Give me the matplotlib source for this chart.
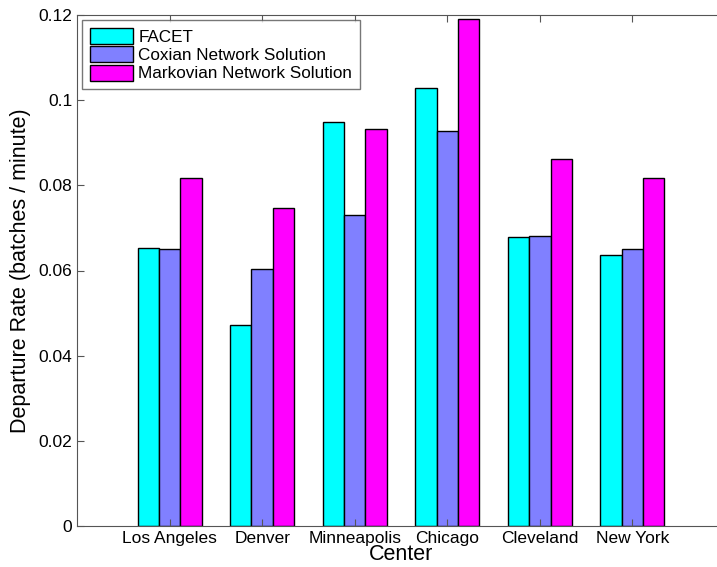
import numpy as np
import matplotlib.pyplot as plt

plt.rcParams["font.family"] = ["Liberation Sans", "DejaVu Sans"]

centers = ["Los Angeles", "Denver", "Minneapolis", "Chicago", "Cleveland", "New York"]
series_names = ["FACET", "Coxian Network Solution", "Markovian Network Solution"]
facet = [0.0653, 0.0472, 0.0949, 0.1029, 0.0679, 0.0636]
coxian = [0.0651, 0.0604, 0.0730, 0.0928, 0.0681, 0.0651]
markovian = [0.0817, 0.0747, 0.0932, 0.1191, 0.0862, 0.0817]
colors = ["#00FFFF", "#8080FF", "#FF00FF"]

fig = plt.figure(figsize=(7.17, 5.67), dpi=100)
ax = fig.add_axes([77 / 717, 1 - 526 / 567, (725 - 77) / 717, (526 - 15) / 567])

x = np.arange(1, len(centers) + 1)
width = 0.23
for i, (vals, name, col) in enumerate(zip([facet, coxian, markovian], series_names, colors)):
    ax.bar(x + (i - 1) * width, vals, width, color=col, edgecolor="black",
           linewidth=1.0, label=name)

ax.set_xlim(0, 7)
ax.set_ylim(0, 0.12)
ax.set_xticks(x)
ax.set_xticklabels(centers)
ax.set_yticks(np.arange(0, 0.121, 0.02))
ax.set_yticklabels(["0", "0.02", "0.04", "0.06", "0.08", "0.1", "0.12"])
ax.tick_params(direction="in", top=True, right=False, labelsize=12.5, length=5,
               color="#555555")
for s in ax.spines.values():
    s.set_color("#555555")
ax.spines["right"].set_visible(False)

ax.set_xlabel("Center", fontsize=15.5, labelpad=-1)
ax.set_ylabel("Departure Rate (batches / minute)", fontsize=15.5, labelpad=5)

leg = ax.legend(loc="upper left", fontsize=12.3, frameon=True, fancybox=False,
                edgecolor="#555555", handlelength=2.5, handleheight=1.05,
                borderaxespad=0.3, borderpad=0.45, labelspacing=0.1,
                handletextpad=0.35)
leg.get_frame().set_linewidth(1.0)

fig.savefig("out.png", dpi=100)
